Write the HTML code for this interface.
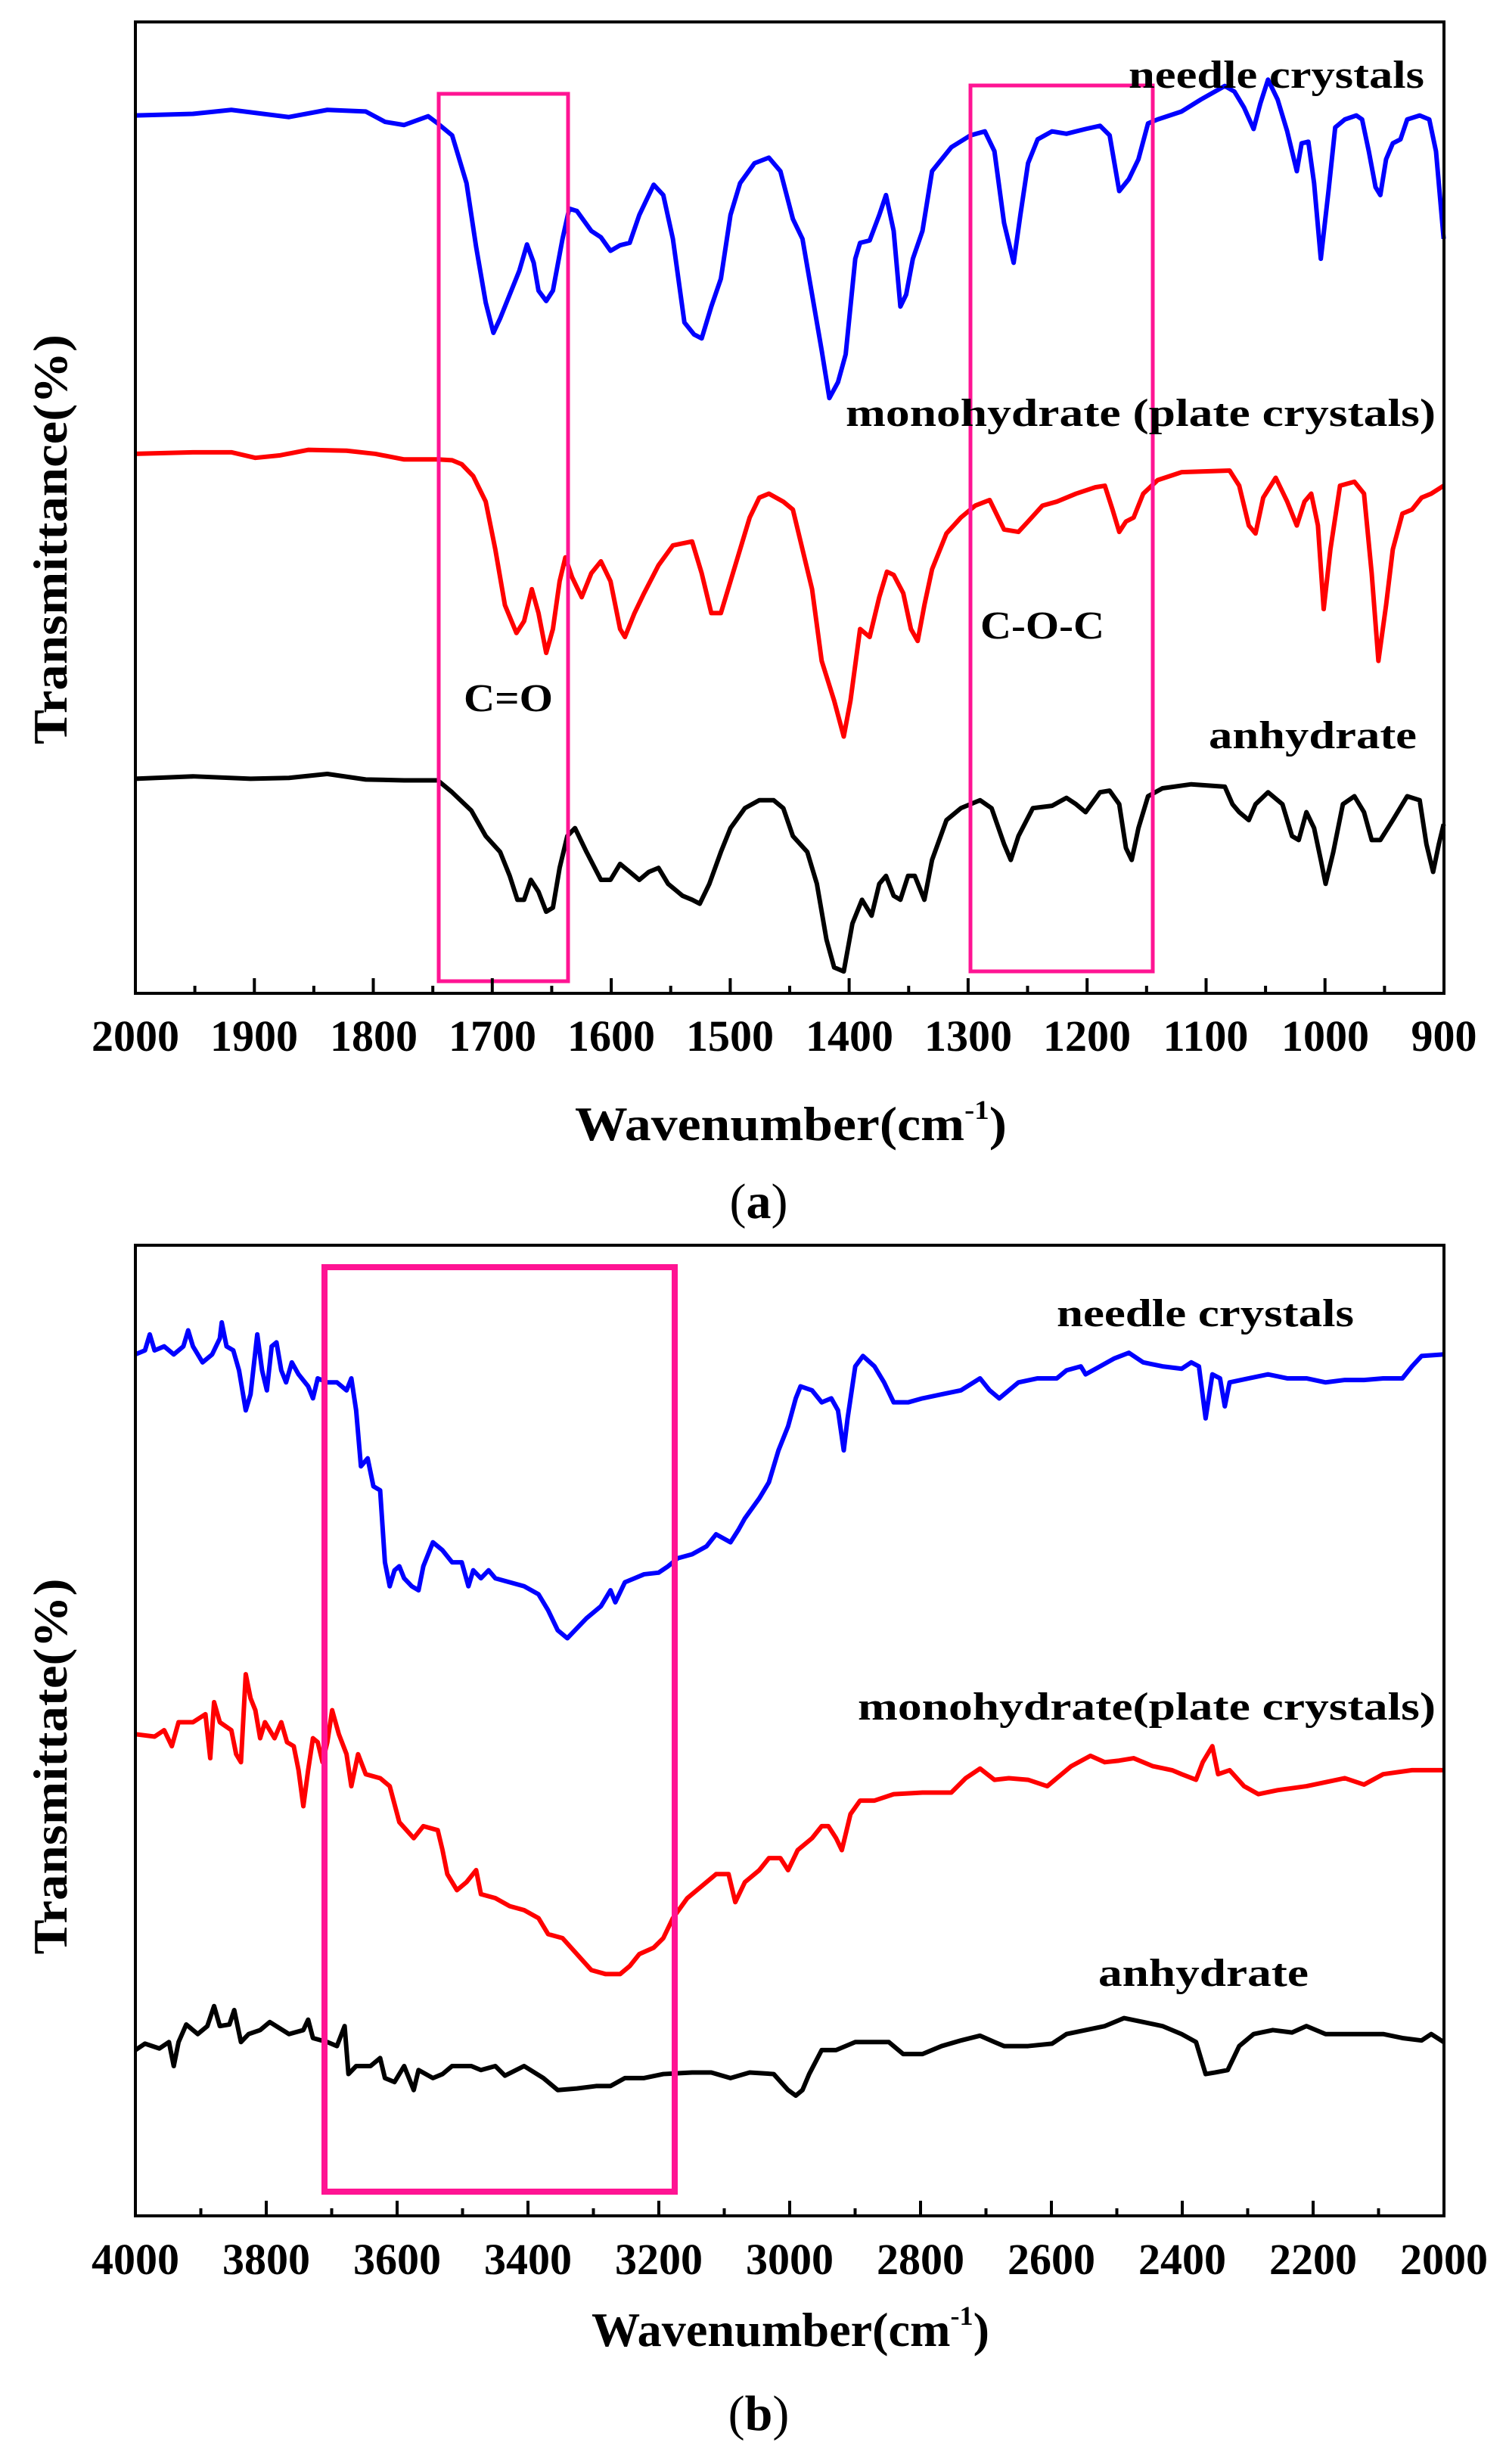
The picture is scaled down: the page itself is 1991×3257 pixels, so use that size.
<!DOCTYPE html>
<html><head><meta charset="utf-8"><style>
html,body{margin:0;padding:0;background:#fff;}
svg{display:block;}
text{font-family:"Liberation Serif",serif;fill:#000;}
.b{font-weight:bold;}
path.s{fill:none;stroke-width:6;stroke-linejoin:round;vector-effect:non-scaling-stroke;}
</style></head><body>
<svg width="1991" height="3257" viewBox="0 0 1991 3257" xmlns="http://www.w3.org/2000/svg">
<rect width="1991" height="3257" fill="#fff"/>

<!-- Panel A traces -->
<g transform="matrix(1.269 0 0 1.0525 1.3 0)">
<path class="s" stroke="#0000ff" d="M140,145 L200,143 240,138 300,147 340,138 380,140 400,153 420,157 445,146 455,155 470,170 485,230 495,310 505,380 513,418 520,400 530,370 540,340 548,307 555,330 560,365 568,378 575,365 585,300 592,262 600,265 615,290 625,298 635,315 645,308 655,305 665,270 680,232 690,245 700,300 712,405 722,420 730,425 740,385 750,350 760,270 770,230 785,205 800,198 812,215 825,275 835,300 845,370 855,440 863,500 872,480 880,445 890,325 895,305 905,302 915,270 922,245 930,290 937,385 943,370 950,325 960,290 970,215 990,185 1010,170 1025,165 1035,190 1045,280 1055,330 1062,270 1070,205 1080,175 1095,165 1110,168 1130,162 1145,158 1155,170 1165,240 1175,225 1185,200 1195,155 1205,150 1230,140 1250,125 1275,108 1285,115 1295,135 1305,162 1312,130 1320,100 1330,125 1340,165 1350,215 1355,180 1362,178 1368,230 1375,325 1383,240 1390,160 1400,150 1412,145 1418,150 1425,190 1432,235 1437,245 1443,200 1450,180 1458,175 1465,150 1478,145 1488,150 1495,190 1503,300"/>
<path class="s" stroke="#ff0000" d="M140,570 L200,568 240,568 265,575 290,572 320,565 360,566 390,570 420,577 455,577 470,578 480,583 492,598 505,630 515,690 525,760 537,795 545,780 553,740 560,770 568,820 575,790 582,730 588,700 595,725 605,750 615,720 625,705 635,730 645,790 650,800 660,770 670,745 685,710 700,685 720,680 730,720 740,770 750,770 760,730 770,690 780,650 790,625 800,620 815,630 825,640 835,690 845,740 855,830 868,880 878,925 885,880 895,790 905,800 915,750 923,718 930,722 940,745 948,790 955,805 962,760 970,715 985,670 1000,650 1015,635 1030,628 1045,665 1060,668 1070,655 1085,635 1100,630 1120,620 1140,612 1150,610 1158,640 1165,668 1172,655 1180,650 1190,620 1205,603 1230,593 1280,591 1290,610 1300,660 1307,670 1315,625 1328,600 1340,630 1350,660 1358,630 1365,620 1372,660 1378,765 1385,690 1395,610 1410,605 1420,620 1428,720 1435,830 1443,760 1450,690 1460,645 1470,640 1480,625 1490,620 1503,610"/>
<path class="s" stroke="#000" d="M140,978 L200,975 260,978 300,977 340,972 380,979 420,980 455,980 470,995 490,1018 505,1050 520,1070 530,1100 538,1130 545,1130 552,1105 560,1120 568,1145 575,1140 582,1090 590,1050 598,1040 610,1070 625,1105 635,1105 645,1085 655,1095 665,1105 675,1095 685,1090 695,1110 710,1125 720,1130 728,1135 738,1110 750,1070 760,1040 775,1015 790,1005 805,1005 815,1015 825,1050 840,1070 850,1110 860,1180 868,1215 878,1220 887,1160 897,1130 907,1150 915,1110 922,1100 930,1125 937,1130 945,1100 952,1100 962,1130 970,1080 985,1030 1000,1015 1020,1005 1032,1015 1045,1060 1052,1080 1060,1050 1075,1015 1095,1012 1110,1002 1120,1010 1130,1020 1145,995 1155,993 1165,1010 1172,1065 1178,1080 1185,1040 1195,1000 1210,990 1240,985 1275,988 1283,1010 1290,1020 1300,1030 1307,1010 1320,995 1335,1010 1345,1050 1352,1055 1360,1020 1368,1040 1375,1080 1380,1110 1388,1070 1398,1010 1410,1000 1420,1020 1428,1055 1437,1055 1450,1030 1465,1000 1478,1005 1485,1060 1492,1095 1498,1060 1503,1035"/>
</g>
<!-- Panel A boxes -->
<rect x="580" y="124" width="171" height="1173" fill="none" stroke="#ff1493" stroke-width="5"/>
<rect x="1283" y="113" width="241" height="1171" fill="none" stroke="#ff1493" stroke-width="5"/>
<!-- Panel A frame & ticks -->
<rect x="179" y="29" width="1730" height="1284" fill="none" stroke="#000" stroke-width="4"/>
<path stroke="#000" stroke-width="4" fill="none" d="M179,1313v-20M257.6,1313v-10M336.3,1313v-20M414.9,1313v-10M493.5,1313v-20M572.2,1313v-10M650.8,1313v-20M729.4,1313v-10M808.1,1313v-20M886.7,1313v-10M965.4,1313v-20M1044,1313v-10M1122.6,1313v-20M1201.3,1313v-10M1279.9,1313v-20M1358.5,1313v-10M1437.2,1313v-20M1515.8,1313v-10M1594.5,1313v-20M1673.1,1313v-10M1751.7,1313v-20M1830.4,1313v-10M1909,1313v-20"/>
<g class="b" font-size="58" text-anchor="middle" font-weight="bold">
<text x="179" y="1389">2000</text><text x="336" y="1389">1900</text><text x="494" y="1389">1800</text><text x="651" y="1389">1700</text><text x="808" y="1389">1600</text><text x="965" y="1389">1500</text><text x="1123" y="1389">1400</text><text x="1280" y="1389">1300</text><text x="1437" y="1389">1200</text><text x="1594" y="1389">1100</text><text x="1752" y="1389">1000</text><text x="1909" y="1389">900</text>
</g>
<g font-weight="bold" font-size="52">
<text x="1492" y="116" textLength="391" lengthAdjust="spacingAndGlyphs">needle crystals</text>
<text x="1118" y="563" textLength="780" lengthAdjust="spacingAndGlyphs">monohydrate (plate crystals)</text>
<text x="1296" y="844" textLength="164" lengthAdjust="spacingAndGlyphs">C-O-C</text>
<text x="613" y="940" textLength="118" lengthAdjust="spacingAndGlyphs">C=O</text>
<text x="1598" y="989" textLength="275" lengthAdjust="spacingAndGlyphs">anhydrate</text>
<text x="760" y="1507" font-size="64" textLength="571" lengthAdjust="spacingAndGlyphs">Wavenumber(cm<tspan dy="-28" font-size="36">-1</tspan><tspan dy="28">)</tspan></text>
<text transform="translate(88,713) rotate(-90)" text-anchor="middle" font-size="64" textLength="542" lengthAdjust="spacingAndGlyphs">Transmittance(%)</text>
</g>
<text x="1003" y="1610" text-anchor="middle" font-size="66">(<tspan font-weight="bold">a</tspan>)</text>

<!-- Panel B traces -->
<g transform="matrix(1.269 0 0 1.057 1.3 1600)">
<path class="s" stroke="#0000ff" d="M140,180 L150,175 155,155 160,175 170,170 180,180 190,170 195,150 200,170 210,190 220,180 228,160 230,140 235,170 242,175 248,200 255,250 260,230 267,155 272,200 277,225 282,170 287,165 292,200 297,215 303,190 310,205 320,220 325,235 330,210 340,215 350,215 360,225 365,210 370,250 375,320 382,310 388,345 395,350 400,440 405,470 410,450 415,445 420,460 428,470 435,475 440,445 450,415 460,425 470,440 480,440 487,470 492,450 500,460 508,450 515,460 530,465 545,470 560,480 570,500 580,525 590,535 598,525 610,510 625,495 635,475 640,490 650,465 660,460 670,455 685,453 695,445 705,435 720,430 735,420 745,405 760,415 768,400 775,385 790,360 800,340 810,300 820,270 828,235 833,220 845,225 855,240 865,235 872,250 878,300 882,260 890,195 898,182 910,195 920,215 930,240 945,240 960,235 980,230 1000,225 1020,210 1030,225 1040,235 1060,215 1080,210 1100,210 1110,200 1125,195 1130,205 1145,195 1160,185 1175,178 1190,190 1210,195 1230,198 1240,190 1248,195 1255,260 1262,205 1270,210 1275,245 1280,215 1300,210 1320,205 1340,210 1360,210 1380,215 1400,212 1420,212 1440,210 1460,210 1470,195 1480,182 1503,180"/>
<path class="s" stroke="#ff0000" d="M140,655 L160,658 170,650 178,670 185,640 200,640 213,630 218,685 222,615 228,640 240,650 245,680 250,690 255,580 260,610 265,625 270,660 275,640 285,660 292,640 298,665 305,670 310,700 315,745 320,700 325,660 330,665 335,690 340,665 345,625 352,655 360,680 365,720 372,680 380,705 395,710 405,720 415,765 430,785 440,770 455,775 460,800 465,830 475,850 485,840 495,825 500,855 515,860 530,870 545,875 560,885 570,905 585,910 600,930 615,950 630,955 645,955 655,945 665,930 680,922 690,910 700,885 715,860 730,845 745,830 758,830 765,865 775,840 790,825 800,810 812,810 820,825 830,800 845,785 855,770 862,770 870,785 876,800 885,755 895,738 910,738 930,730 960,728 990,728 1005,710 1020,698 1035,712 1050,710 1070,712 1090,720 1100,710 1115,695 1135,682 1150,690 1165,688 1180,685 1200,695 1220,700 1230,705 1245,712 1252,690 1262,670 1268,705 1280,700 1295,720 1310,730 1330,725 1360,720 1400,710 1420,718 1440,705 1470,700 1503,700"/>
<path class="s" stroke="#000" d="M140,1050 L150,1042 165,1048 175,1040 180,1070 185,1040 193,1018 205,1030 215,1020 222,995 228,1020 238,1018 243,1000 250,1040 258,1030 270,1025 280,1015 300,1030 315,1025 320,1012 325,1035 340,1040 350,1045 358,1020 362,1080 370,1070 385,1070 395,1060 400,1085 410,1090 420,1070 430,1100 435,1075 450,1085 460,1080 470,1070 490,1070 500,1075 515,1070 525,1082 545,1070 565,1085 580,1100 600,1098 620,1095 635,1095 650,1085 670,1085 690,1080 720,1078 740,1078 760,1085 780,1078 805,1080 820,1100 828,1107 835,1100 842,1080 855,1050 870,1050 890,1040 910,1040 925,1040 940,1055 960,1055 980,1045 1000,1038 1020,1032 1035,1040 1045,1045 1070,1045 1095,1042 1110,1030 1130,1025 1150,1020 1170,1010 1190,1015 1210,1020 1230,1030 1245,1040 1255,1080 1265,1078 1278,1075 1290,1045 1305,1030 1325,1025 1345,1028 1360,1020 1380,1030 1400,1030 1420,1030 1440,1030 1460,1035 1480,1038 1490,1030 1503,1040"/>
</g>
<rect x="429" y="1675" width="463" height="1222" fill="none" stroke="#ff1493" stroke-width="8"/>
<rect x="179" y="1646" width="1730" height="1283" fill="none" stroke="#000" stroke-width="4"/>
<path stroke="#000" stroke-width="4" fill="none" d="M179,2929v-20M265.5,2929v-10M352,2929v-20M438.5,2929v-10M525,2929v-20M611.5,2929v-10M698,2929v-20M784.5,2929v-10M871,2929v-20M957.5,2929v-10M1044,2929v-20M1130.5,2929v-10M1217,2929v-20M1303.5,2929v-10M1390,2929v-20M1476.5,2929v-10M1563,2929v-20M1649.5,2929v-10M1736,2929v-20M1822.5,2929v-10M1909,2929v-20"/>
<g font-size="58" text-anchor="middle" font-weight="bold">
<text x="179" y="3006">4000</text><text x="352" y="3006">3800</text><text x="525" y="3006">3600</text><text x="698" y="3006">3400</text><text x="871" y="3006">3200</text><text x="1044" y="3006">3000</text><text x="1217" y="3006">2800</text><text x="1390" y="3006">2600</text><text x="1563" y="3006">2400</text><text x="1736" y="3006">2200</text><text x="1909" y="3006">2000</text>
</g>
<g font-weight="bold" font-size="52">
<text x="1397" y="1753" textLength="393" lengthAdjust="spacingAndGlyphs">needle crystals</text>
<text x="1134" y="2273" textLength="764" lengthAdjust="spacingAndGlyphs">monohydrate(plate crystals)</text>
<text x="1452" y="2625" textLength="278" lengthAdjust="spacingAndGlyphs">anhydrate</text>
<text x="782" y="3101" font-size="64" textLength="526" lengthAdjust="spacingAndGlyphs">Wavenumber(cm<tspan dy="-28" font-size="36">-1</tspan><tspan dy="28">)</tspan></text>
<text transform="translate(88,2335) rotate(-90)" text-anchor="middle" font-size="64" textLength="497" lengthAdjust="spacingAndGlyphs">Transmittate(%)</text>
</g>
<text x="1003" y="3212" text-anchor="middle" font-size="66">(<tspan font-weight="bold">b</tspan>)</text>
</svg>
</body></html>
